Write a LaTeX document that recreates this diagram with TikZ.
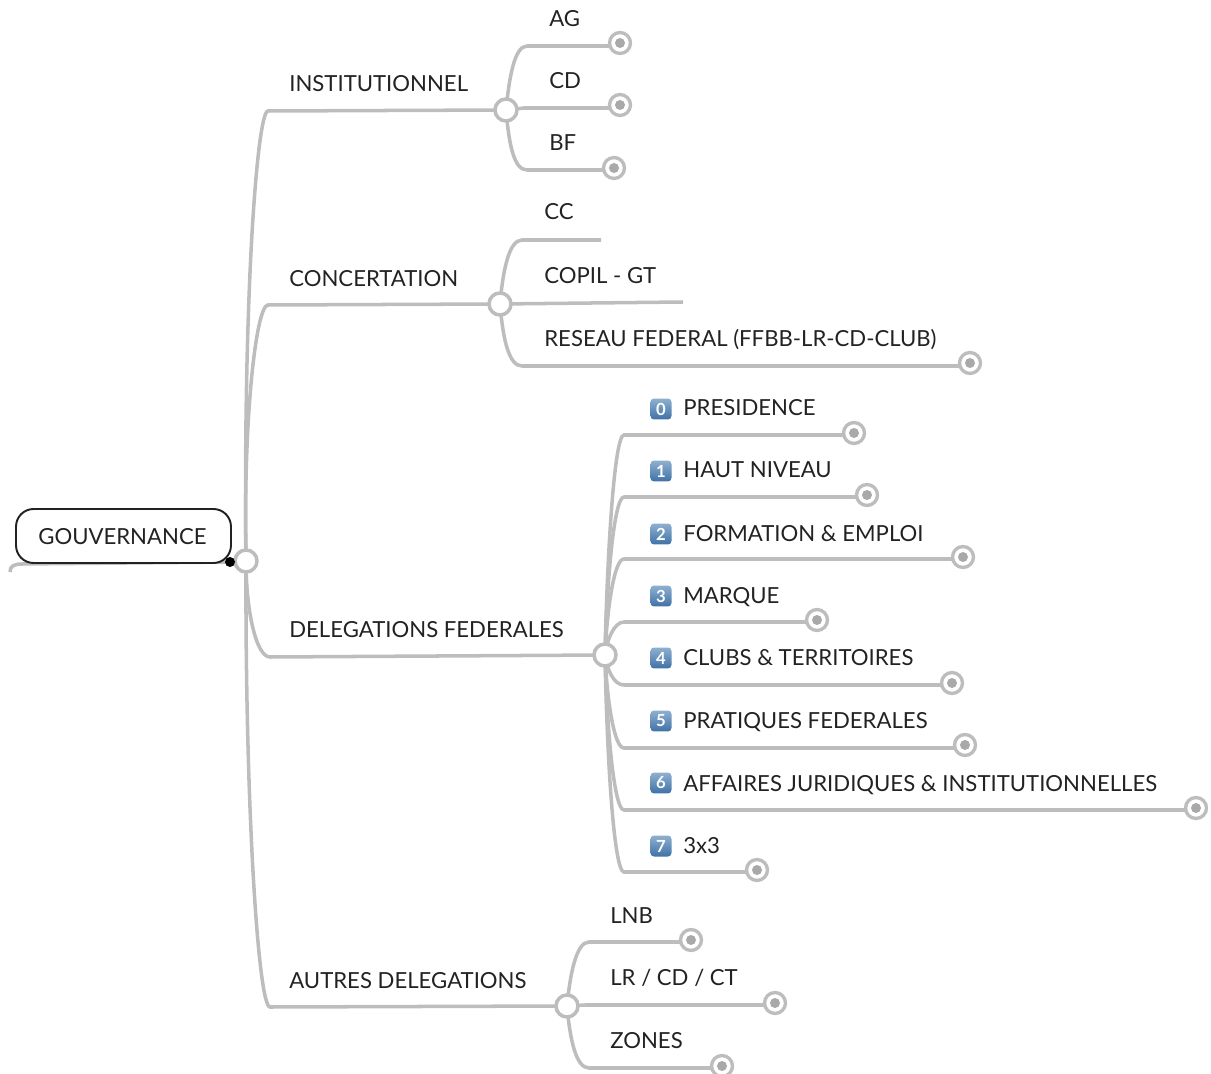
\documentclass[tikz,border=0pt]{standalone}
\usepackage{fontspec}
\setmainfont{Lato}
\usetikzlibrary{backgrounds}
\definecolor{branchgray}{HTML}{BDBDBD}
\definecolor{dotgray}{HTML}{A9A9A9}
\definecolor{labelblack}{HTML}{222222}
\definecolor{badgetop}{HTML}{8FB0D0}
\definecolor{badgebottom}{HTML}{3F72A6}
\tikzset{
  branch/.style={draw=branchgray, line width=2pt},
  label/.style={anchor=base west, inner sep=0pt, text=labelblack, font=\fontsize{12.6}{16}\selectfont},
  junction/.style={circle, draw=branchgray, line width=2pt, fill=white, minimum size=0.44cm, inner sep=0pt},
  endmark/.style={circle, draw=branchgray, line width=1.9pt, fill=white, minimum size=0.42cm, inner sep=0pt},
  enddot/.style={circle, fill=dotgray, minimum size=0.2cm, inner sep=0pt},
  badge/.style={rounded corners=2pt, top color=badgetop, bottom color=badgebottom, text=white, minimum size=0.42cm, inner sep=0pt, font=\fontsize{9.5}{9.5}\selectfont\bfseries}
}
\begin{document}
\begin{tikzpicture}[x=0.02cm,y=0.02cm]
\useasboundingbox (0,0) rectangle (1211,-1074);
\node [draw=labelblack, line width=1.1pt, fill=white, rounded corners=10pt, minimum width=4.3cm, minimum height=1.08cm, inner sep=0pt] (gouv) at (123.5,-536) {};
\node [label] (gouvtext) at (38,-544) {GOUVERNANCE};
\node [junction] (root) at (246,-561) {};
\node [circle, fill=black, minimum size=0.2cm, inner sep=0pt] (gouvdot) at (230,-562) {};
\coordinate (tail) at (10,-572);

\node [label] (inst) at (289,-92) {INSTITUTIONNEL};
\node [label] (conc) at (289,-287) {CONCERTATION};
\node [label] (dele) at (289,-637) {DELEGATIONS FEDERALES};
\node [label] (autr) at (289,-988) {AUTRES DELEGATIONS};
\node [junction] (jinst) at (506,-110) {};
\node [junction] (jconc) at (500,-304) {};
\node [junction] (jdele) at (605,-655) {};
\node [junction] (jautr) at (567,-1006) {};
\coordinate (cinst) at (268,-111);
\coordinate (cconc) at (268,-305);
\coordinate (cdele) at (270,-657);
\coordinate (cautr) at (270,-1007);

\node [label] (ag) at (549,-27) {AG};
\node [label] (cd) at (549,-89) {CD};
\node [label] (bf) at (549,-151) {BF};
\node [endmark] (mag) at (620,-43) {};
\node [enddot] at (mag) {};
\node [endmark] (mcd) at (620,-105) {};
\node [enddot] at (mcd) {};
\node [endmark] (mbf) at (614,-168) {};
\node [enddot] at (mbf) {};
\coordinate (cag) at (527,-46);
\coordinate (ccd) at (524,-108);
\coordinate (cbf) at (527,-170);

\node [label] (cc) at (544,-220) {CC};
\node [label] (copil) at (544,-284) {COPIL - GT};
\node [label] (rese) at (544,-347) {RESEAU FEDERAL (FFBB-LR-CD-CLUB)};
\coordinate (ecc) at (601,-240);
\coordinate (ecopil) at (683,-302);
\node [endmark] (mrese) at (970,-363) {};
\node [enddot] at (mrese) {};
\coordinate (ccc) at (522,-240);
\coordinate (crese) at (522,-366);

\node [badge] (b0) at (661,-409) {0};
\node [badge] (b1) at (661,-471) {1};
\node [badge] (b2) at (661,-534) {2};
\node [badge] (b3) at (661,-596) {3};
\node [badge] (b4) at (661,-658) {4};
\node [badge] (b5) at (661,-721) {5};
\node [badge] (b6) at (661,-783) {6};
\node [badge] (b7) at (661,-846) {7};
\node [label] (pres) at (683,-416) {PRESIDENCE};
\node [label] (haut) at (683,-478) {HAUT NIVEAU};
\node [label] (form) at (683,-541) {FORMATION \& EMPLOI};
\node [label] (marq) at (683,-603) {MARQUE};
\node [label] (club) at (683,-665) {CLUBS \& TERRITOIRES};
\node [label] (prat) at (683,-728) {PRATIQUES FEDERALES};
\node [label] (affa) at (683,-791) {AFFAIRES JURIDIQUES \& INSTITUTIONNELLES};
\node [label] (trois) at (683,-853) {3x3};
\node [endmark] (mpres) at (854,-433) {};
\node [enddot] at (mpres) {};
\node [endmark] (mhaut) at (867,-495) {};
\node [enddot] at (mhaut) {};
\node [endmark] (mform) at (963,-557) {};
\node [enddot] at (mform) {};
\node [endmark] (mmarq) at (817,-620) {};
\node [enddot] at (mmarq) {};
\node [endmark] (mclub) at (952,-683) {};
\node [enddot] at (mclub) {};
\node [endmark] (mprat) at (965,-745) {};
\node [enddot] at (mprat) {};
\node [endmark] (maffa) at (1196,-808) {};
\node [enddot] at (maffa) {};
\node [endmark] (mtrois) at (757,-870) {};
\node [enddot] at (mtrois) {};
\coordinate (cpres) at (624,-435);
\coordinate (chaut) at (624,-497);
\coordinate (cform) at (624,-559);
\coordinate (cmarq) at (624,-622);
\coordinate (cclub) at (624,-685);
\coordinate (cprat) at (624,-748);
\coordinate (caffa) at (624,-810);
\coordinate (ctrois) at (624,-872);

\node [label] (lnb) at (610,-923) {LNB};
\node [label] (lrcd) at (610,-985) {LR / CD / CT};
\node [label] (zone) at (610,-1048) {ZONES};
\node [endmark] (mlnb) at (691,-940) {};
\node [enddot] at (mlnb) {};
\node [endmark] (mlrcd) at (775,-1003) {};
\node [enddot] at (mlrcd) {};
\node [endmark] (mzone) at (722,-1066) {};
\node [enddot] at (mzone) {};
\coordinate (clnb) at (589,-942);
\coordinate (clrcd) at (585,-1005);
\coordinate (czone) at (589,-1068);

\begin{scope}[on background layer]
\draw [branch] (tail) .. controls (10,-566) and (14,-564) .. (22,-564) -- (gouvdot.center);
\draw [branch] (root.center) .. controls (243,-300) and (257,-111) .. (cinst) -- (jinst.center);
\draw [branch] (root.center) .. controls (243,-420) and (256,-305) .. (cconc) -- (jconc.center);
\draw [branch] (root.center) .. controls (246,-610) and (256,-657) .. (cdele) -- (jdele.center);
\draw [branch] (root.center) .. controls (245,-800) and (258,-1007) .. (cautr) -- (jautr.center);

\draw [branch] (jinst.center) .. controls (509,-80) and (514,-46) .. (cag) -- (cag -| mag);
\draw [branch] (jinst.center) -- (ccd) -- (ccd -| mcd);
\draw [branch] (jinst.center) .. controls (509,-145) and (514,-170) .. (cbf) -- (cbf -| mbf);

\draw [branch] (jconc.center) .. controls (503,-270) and (509,-240) .. (ccc) -- (ecc);
\draw [branch] (jconc.center) -- (ecopil);
\draw [branch] (jconc.center) .. controls (503,-340) and (509,-366) .. (crese) -- (crese -| mrese);

\draw [branch] (jdele.center) .. controls (607,-560) and (614,-435) .. (cpres) -- (cpres -| mpres);
\draw [branch] (jdele.center) .. controls (607,-580) and (614,-497) .. (chaut) -- (chaut -| mhaut);
\draw [branch] (jdele.center) .. controls (607,-610) and (614,-559) .. (cform) -- (cform -| mform);
\draw [branch] (jdele.center) .. controls (607,-640) and (614,-622) .. (cmarq) -- (cmarq -| mmarq);
\draw [branch] (jdele.center) .. controls (607,-670) and (614,-685) .. (cclub) -- (cclub -| mclub);
\draw [branch] (jdele.center) .. controls (607,-700) and (614,-748) .. (cprat) -- (cprat -| mprat);
\draw [branch] (jdele.center) .. controls (607,-730) and (614,-810) .. (caffa) -- (caffa -| maffa);
\draw [branch] (jdele.center) .. controls (607,-760) and (614,-872) .. (ctrois) -- (ctrois -| mtrois);

\draw [branch] (jautr.center) .. controls (570,-975) and (576,-942) .. (clnb) -- (clnb -| mlnb);
\draw [branch] (jautr.center) -- (clrcd) -- (clrcd -| mlrcd);
\draw [branch] (jautr.center) .. controls (570,-1040) and (576,-1068) .. (czone) -- (czone -| mzone);
\end{scope}
\end{tikzpicture}
\end{document}
